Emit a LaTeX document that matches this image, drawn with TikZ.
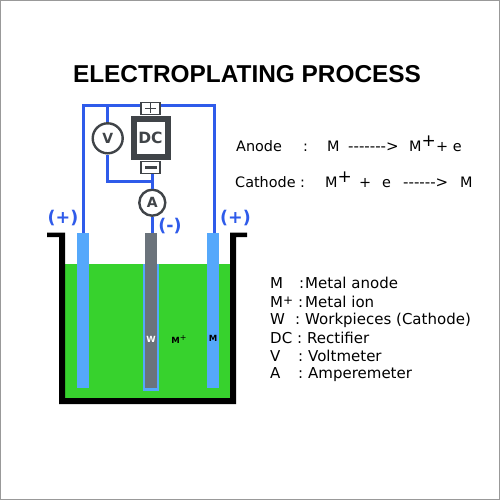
\documentclass[tikz,border=0pt]{standalone}
\usepackage{fontspec}
\setmainfont{Liberation Sans}
\newfontfamily\labelfont{DejaVu Sans}
\definecolor{wireblue}{HTML}{2F5BEA}
\definecolor{plateblue}{HTML}{55A8FB}
\definecolor{bath}{HTML}{37D22D}
\definecolor{workgray}{HTML}{6B737B}
\definecolor{meter}{HTML}{404448}
\definecolor{framegray}{HTML}{999999}
\tikzset{
  wire/.style={draw=wireblue,line width=3pt},
  meterbox/.style={circle,draw=meter,line width=2.4pt,fill=white,inner sep=0pt,font=\labelfont\bfseries\fontsize{14}{14}\selectfont,text=meter},
  termbox/.style={rectangle,draw=meter,line width=1.6pt,fill=white,inner sep=0pt,minimum width=19pt,minimum height=12pt},
  polarity/.style={font=\labelfont\bfseries\fontsize{17.5}{18}\selectfont,text=wireblue},
  info/.style={anchor=base west,inner sep=0pt,font=\labelfont\fontsize{14.4}{15}\selectfont},
  legend/.style={anchor=base west,inner sep=0pt,font=\labelfont\fontsize{15}{15}\selectfont},
  dashes/.style={info,font=\labelfont\fontsize{15}{15}\selectfont},
  tag/.style={font=\labelfont\bfseries\fontsize{8.5}{8.5}\selectfont,inner sep=0pt}
}
\begin{document}
\begin{tikzpicture}[x=1pt,y=-1pt]
\useasboundingbox (0,0) rectangle (500,500);
\fill[white] (0,0) rectangle (500,500);
\draw[framegray,line width=2pt] (0,0) rectangle (500,500);
\node[font=\bfseries\fontsize{24.4}{25}\selectfont,inner sep=0pt] (title) at (247,74) {ELECTROPLATING PROCESS};
% bath
\fill[bath] (65,264) rectangle (230,398);
\fill[plateblue] (143,264) rectangle (159,391);
\fill[black] (47,232.5) -- (65,232.5) -- (65,398) -- (230,398) -- (230,232.5) -- (247,232.5) -- (247,237) -- (236,237) -- (236,404) -- (59,404) -- (59,237) -- (47,237) -- cycle;
% electrodes
\node[fill=plateblue,minimum width=12pt,minimum height=155pt,inner sep=0pt] (left) at (83,310.5) {};
\node[fill=plateblue,minimum width=12pt,minimum height=155pt,inner sep=0pt] (right) at (213,310.5) {};
\node[fill=workgray,minimum width=12pt,minimum height=155pt,inner sep=0pt] (work) at (151,310.5) {};
% components
\node[termbox] (plus) at (150.5,108.5) {};
\node[termbox] (minus) at (150.5,167.5) {};
\node[draw=meter,line width=6pt,fill=white,minimum width=34pt,minimum height=38pt,inner sep=0pt,font=\labelfont\bfseries\fontsize{15.5}{16}\selectfont,text=meter] (dc) at (150.5,138) {DC};
\node[meterbox,minimum size=30pt] (v) at (107.7,138.3) {V};
\node[meterbox,minimum size=26pt] (a) at (152.3,202.7) {A};
% wires
\coordinate (tl) at (83.5,106);
\coordinate (tr) at (214,106);
\coordinate (vt) at (107.7,106);
\coordinate (vb) at (107.7,181);
\coordinate (jn) at (152.3,181);
\draw[wire] (left.north -| tl) -- (tl) -- (plus.west |- tl);
\draw[wire] (plus.east |- tr) -- (tr) -- (right.north -| tr);
\draw[wire] (vt) -- (v.north);
\draw[wire] (v.south) -- (vb) -- (jn);
\draw[wire] (minus.south -| jn) -- (a.north);
\draw[wire] (a.south) -- (work.north -| a);
% terminal signs
\draw[meter,line width=1.6pt] (145,108.5) -- (156,108.5) (150.5,103.5) -- (150.5,113.5);
\fill[meter] (144.5,166) rectangle (156.5,169);
% polarity
\node[polarity] (pl) at (63,218) {(+)};
\node[polarity] (pm) at (170,226) {(-)};
\node[polarity] (pr) at (235.5,218) {(+)};
% tags
\node[tag,text=white] (w) at (151,339.5) {W};
\node[tag] (mi) at (179,339) {M\raisebox{3pt}{\fontsize{8}{8}\selectfont\mdseries +}};
\node[tag] (m) at (213,338) {M};
% equations
\node[info] (an) at (236,151) {Anode};
\node[info] (anc) at (303,151) {:};
\node[info] (an1) at (327,151) {M};
\node[dashes] (an2) at (348,151) {------->};
\node[info] (an3) at (409,151) {M\raisebox{5pt}{\fontsize{17}{17}\selectfont +}};
\node[info] (an4) at (436,151) {+ e};
\node[info] (ca) at (235,187) {Cathode :};
\node[info] (ca1) at (325,187) {M\raisebox{5pt}{\fontsize{17}{17}\selectfont +}};
\node[info] (ca2) at (359,187) {+};
\node[info] (ca3) at (382,187) {e};
\node[dashes] (ca4) at (403,187) {------>};
\node[info] (ca5) at (460,187) {M};
% legend
\node[legend] (k1) at (270,288) {M};
\node[legend] (k1b) at (299,288) {:};
\node[legend] (k1c) at (305,288) {Metal anode};
\node[legend] (k2) at (270,307) {M\raisebox{3pt}{\fontsize{12}{12}\selectfont +}};
\node[legend] (k2b) at (298,307) {:};
\node[legend] (k2c) at (305,307) {Metal ion};
\node[legend] (k3) at (270,324) {W};
\node[legend] (k3b) at (295,324) {:};
\node[legend] (k3c) at (305,324) {Workpieces (Cathode)};
\node[legend] (k4) at (270,343) {DC};
\node[legend] (k4b) at (297,343) {:};
\node[legend] (k4c) at (307,343) {Rectifier};
\node[legend] (k5) at (270,361) {V};
\node[legend] (k5b) at (298,361) {:};
\node[legend] (k5c) at (308,361) {Voltmeter};
\node[legend] (k6) at (270,378) {A};
\node[legend] (k6b) at (298,378) {:};
\node[legend] (k6c) at (308,378) {Amperemeter};
\end{tikzpicture}
\end{document}
